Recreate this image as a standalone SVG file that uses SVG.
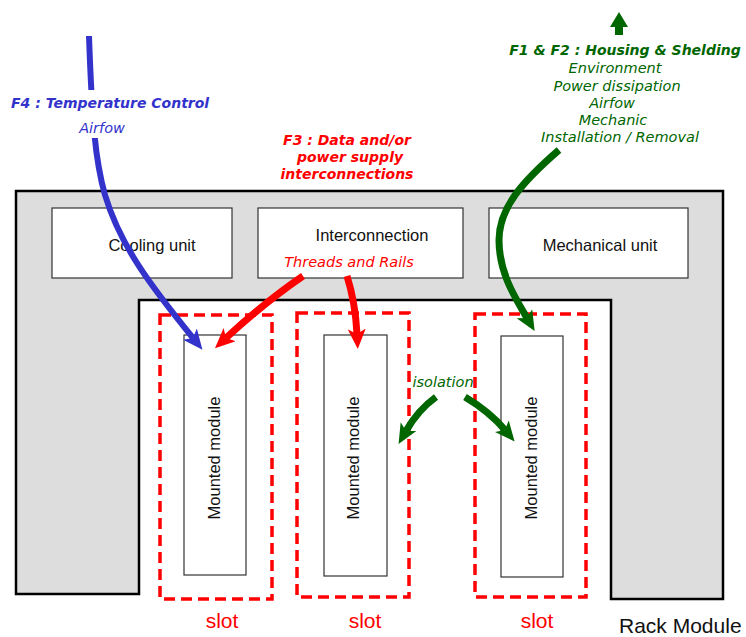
<svg xmlns="http://www.w3.org/2000/svg" width="746" height="637" viewBox="0 0 746 637">
<style>
.box{fill:#fff;stroke:#333;stroke-width:1.2}
.lbl{font-family:"Liberation Sans",Arial,sans-serif;font-size:16.5px;fill:#111}
.mod{font-family:"Liberation Sans",Arial,sans-serif;font-size:16.5px;fill:#111;text-anchor:middle}
.slot{fill:none;stroke:#ff0000;stroke-width:3.5;stroke-dasharray:11 6}
.slt{font-family:"Liberation Sans",Arial,sans-serif;font-size:21px;fill:#ff0000;text-anchor:middle}
.v{font-family:"DejaVu Sans",Verdana,sans-serif;font-style:italic}
.b{font-weight:bold}
.arr{fill:none}
</style>
<defs>
<marker id="hb" viewBox="0 0 20 18" refX="5" refY="9" markerWidth="20" markerHeight="18" markerUnits="userSpaceOnUse" orient="auto"><path d="M0,0 L20,9 L0,18 L5,9 z" fill="#3333cc"/></marker>
<marker id="hr" viewBox="0 0 20 18" refX="5" refY="9" markerWidth="20" markerHeight="18" markerUnits="userSpaceOnUse" orient="auto"><path d="M0,0 L20,9 L0,18 L5,9 z" fill="#ff0000"/></marker>
<marker id="hg" viewBox="0 0 20 18" refX="5" refY="9" markerWidth="20" markerHeight="18" markerUnits="userSpaceOnUse" orient="auto"><path d="M0,0 L20,9 L0,18 L5,9 z" fill="#006600"/></marker>
</defs>
<rect width="746" height="637" fill="#fff"/>
<g id="rack">
<polygon points="16,191 723,191 723,599 611,599 611,300 139,300 139,594 16,594" fill="#dddddd" stroke="#000" stroke-width="2.5"/>
<text x="619" y="633" font-family="Liberation Sans, Arial, sans-serif" font-size="21" fill="#111">Rack Module</text>
</g>
<g id="cooling"><rect class="box" x="52" y="208" width="180" height="70"/><text class="lbl" x="152" y="251" text-anchor="middle">Cooling unit</text></g>
<g id="interconnection"><rect class="box" x="258" y="208" width="205" height="70"/><text class="lbl" x="372" y="241" text-anchor="middle">Interconnection</text>
<text class="v" x="349" y="267" font-size="14.5" fill="#ff0000" text-anchor="middle">Threads and Rails</text></g>
<g id="mechanical"><rect class="box" x="489" y="208" width="199" height="70"/><text class="lbl" x="600" y="251" text-anchor="middle">Mechanical unit</text></g>
<g id="slot1"><rect class="slot" x="160" y="315" width="112" height="284"/><text class="slt" x="222" y="628">slot</text></g>
<g id="slot2"><rect class="slot" x="297" y="313" width="112" height="284"/><text class="slt" x="365" y="628">slot</text></g>
<g id="slot3"><rect class="slot" x="475" y="314" width="111" height="283"/><text class="slt" x="537" y="628">slot</text></g>
<g id="module1"><rect class="box" x="184" y="335" width="62" height="240"/><text class="mod" transform="translate(220,458) rotate(-90)">Mounted module</text></g>
<g id="module2"><rect class="box" x="324" y="335" width="63" height="241"/><text class="mod" transform="translate(359,458) rotate(-90)">Mounted module</text></g>
<g id="module3"><rect class="box" x="501" y="336" width="62" height="241"/><text class="mod" transform="translate(537,458) rotate(-90)">Mounted module</text></g>
<g id="connectors">
<path class="arr" d="M89,36 C92,120 95,160 105,195 C120,245 150,285 193,338" stroke="#3333cc" stroke-width="6" marker-end="url(#hb)"/>
<path class="arr" d="M303,276 Q265,302 226,338" stroke="#ff0000" stroke-width="7" marker-end="url(#hr)"/>
<path class="arr" d="M347,276 C353,295 356,315 357,334" stroke="#ff0000" stroke-width="7" marker-end="url(#hr)"/>
<path class="arr" d="M559,150 C522,182 499,208 499,240 C499,272 514,296 527,318" stroke="#006600" stroke-width="7" marker-end="url(#hg)"/>
<path class="arr" d="M436,397 Q418,410 406,431" stroke="#006600" stroke-width="7" marker-end="url(#hg)"/>
<path class="arr" d="M465,397 Q490,412 505,430" stroke="#006600" stroke-width="7" marker-end="url(#hg)"/>
<polygon points="619,12 628,27 623,27 623,35 615,35 615,27 610,27" fill="#006600"/>
</g>
<g id="f4">
<rect x="8" y="90" width="210" height="48" fill="#fff"/>
<text class="v b" x="11" y="108" font-size="14" fill="#3333cc">F4 : Temperature Control</text>
<text class="v" x="102" y="133" font-size="14.5" fill="#3333cc" text-anchor="middle">Airfow</text>
</g>
<g id="f3" fill="#ff0000">
<text class="v b" x="347" y="145" font-size="14" text-anchor="middle">F3 : Data and/or</text>
<text class="v b" x="350" y="162" font-size="14" text-anchor="middle">power supply</text>
<text class="v b" x="347" y="179" font-size="14" text-anchor="middle">interconnections</text>
</g>
<g id="f1f2" fill="#006600">
<text class="v b" x="625" y="55" font-size="14" text-anchor="middle">F1 &amp; F2 : Housing &amp; Shelding</text>
<text class="v" x="615" y="73" font-size="14.5" text-anchor="middle">Environment</text>
<text class="v" x="617" y="91" font-size="14.5" text-anchor="middle">Power dissipation</text>
<text class="v" x="612" y="108" font-size="14.5" text-anchor="middle">Airfow</text>
<text class="v" x="613" y="125" font-size="14.5" text-anchor="middle">Mechanic</text>
<text class="v" x="620" y="142" font-size="14.5" text-anchor="middle">Installation / Removal</text>
</g>
<g id="isolation"><text class="v" x="443" y="387" font-size="14.5" fill="#006600" text-anchor="middle">isolation</text></g>
</svg>
